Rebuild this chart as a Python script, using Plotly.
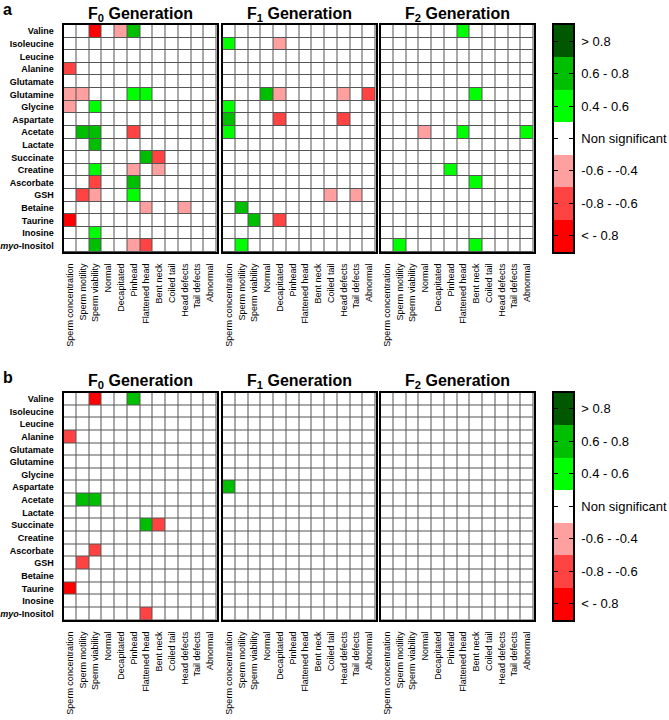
import plotly.graph_objects as go

metabolites = ["Valine", "Isoleucine", "Leucine", "Alanine", "Glutamate", "Glutamine",
               "Glycine", "Aspartate", "Acetate", "Lactate", "Succinate", "Creatine",
               "Ascorbate", "GSH", "Betaine", "Taurine", "Inosine", "myo-Inositol"]
metabolite_labels = [m if m != "myo-Inositol" else "<i>myo</i>-Inositol" for m in metabolites]
parameters = ["Sperm concentration", "Sperm motility", "Sperm viability", "Normal",
              "Decapitated", "Pinhead", "Flattened head", "Bent neck", "Coiled tail",
              "Head defects", "Tail defects", "Abnormal"]
generations = ["F<sub>0</sub> Generation", "F<sub>1</sub> Generation", "F<sub>2</sub> Generation"]

# significant correlations (representative value of each class); others = non significant
a_F0 = [("Valine", "Sperm viability", -0.9), ("Valine", "Decapitated", -0.5), ("Valine", "Pinhead", 0.7),
        ("Alanine", "Sperm concentration", -0.7),
        ("Glutamine", "Sperm concentration", -0.5), ("Glutamine", "Sperm motility", -0.5),
        ("Glutamine", "Pinhead", 0.5), ("Glutamine", "Flattened head", 0.5),
        ("Glycine", "Sperm concentration", -0.5), ("Glycine", "Sperm viability", 0.5),
        ("Acetate", "Sperm motility", 0.7), ("Acetate", "Sperm viability", 0.7), ("Acetate", "Pinhead", -0.7),
        ("Lactate", "Sperm viability", 0.7),
        ("Succinate", "Flattened head", 0.7), ("Succinate", "Bent neck", -0.7),
        ("Creatine", "Sperm viability", 0.5), ("Creatine", "Pinhead", -0.5), ("Creatine", "Bent neck", -0.5),
        ("Ascorbate", "Sperm viability", -0.7), ("Ascorbate", "Pinhead", 0.7),
        ("GSH", "Sperm motility", -0.7), ("GSH", "Sperm viability", -0.5), ("GSH", "Pinhead", 0.5),
        ("Betaine", "Flattened head", -0.5), ("Betaine", "Head defects", -0.5),
        ("Taurine", "Sperm concentration", -0.9),
        ("Inosine", "Sperm viability", 0.5),
        ("myo-Inositol", "Sperm viability", 0.7), ("myo-Inositol", "Pinhead", -0.5),
        ("myo-Inositol", "Flattened head", -0.7)]
a_F1 = [("Isoleucine", "Sperm concentration", 0.5), ("Isoleucine", "Decapitated", -0.5),
        ("Glutamine", "Normal", 0.7), ("Glutamine", "Decapitated", -0.5),
        ("Glutamine", "Head defects", -0.5), ("Glutamine", "Abnormal", -0.7),
        ("Glycine", "Sperm concentration", 0.5),
        ("Aspartate", "Sperm concentration", 0.7), ("Aspartate", "Decapitated", -0.7),
        ("Aspartate", "Head defects", -0.7),
        ("Acetate", "Sperm concentration", 0.5),
        ("GSH", "Coiled tail", -0.5), ("GSH", "Tail defects", -0.5),
        ("Betaine", "Sperm motility", 0.7),
        ("Taurine", "Sperm viability", 0.7), ("Taurine", "Decapitated", -0.7),
        ("myo-Inositol", "Sperm motility", 0.5)]
a_F2 = [("Valine", "Flattened head", 0.5),
        ("Glutamine", "Bent neck", 0.5),
        ("Acetate", "Normal", -0.5), ("Acetate", "Flattened head", 0.5), ("Acetate", "Abnormal", 0.5),
        ("Creatine", "Pinhead", 0.5),
        ("Ascorbate", "Bent neck", 0.5),
        ("myo-Inositol", "Sperm motility", 0.5), ("myo-Inositol", "Bent neck", 0.5)]
b_F0 = [("Valine", "Sperm viability", -0.9), ("Valine", "Pinhead", 0.7),
        ("Alanine", "Sperm concentration", -0.7),
        ("Acetate", "Sperm motility", 0.7), ("Acetate", "Sperm viability", 0.7),
        ("Succinate", "Flattened head", 0.7), ("Succinate", "Bent neck", -0.7),
        ("Ascorbate", "Sperm viability", -0.7),
        ("GSH", "Sperm motility", -0.7),
        ("Taurine", "Sperm concentration", -0.9),
        ("myo-Inositol", "Flattened head", -0.7)]
b_F1 = [("Aspartate", "Sperm concentration", 0.7)]
b_F2 = []

legend_values = [0.9, 0.7, 0.5, 0.0, -0.5, -0.7, -0.9]
legend_labels = ["> 0.8", "0.6 - 0.8", "0.4 - 0.6", "Non significant",
                 "-0.6 - -0.4", "-0.8 - -0.6", "< - 0.8"]

C_RED, C_MRED, C_PINK, C_WHITE = "#ff0000", "#ff4242", "#ffa0a0", "#ffffff"
C_G1, C_G2, C_G3 = "#00ff00", "#00bf00", "#005800"
colorscale = [[0, C_RED], [0.1, C_RED], [0.1, C_MRED], [0.2, C_MRED], [0.2, C_PINK], [0.3, C_PINK],
              [0.3, C_WHITE], [0.7, C_WHITE], [0.7, C_G1], [0.8, C_G1], [0.8, C_G2], [0.9, C_G2],
              [0.9, C_G3], [1, C_G3]]

W, H = 669, 720
FONT = "Liberation Sans, Arial, sans-serif"


def build(entries):
    z = [[0.0] * len(parameters) for _ in metabolites]
    for m, p, v in entries:
        z[metabolites.index(m)][parameters.index(p)] = v
    return z


def xd(x0, x1):
    return [x0 / W, x1 / W]


def yd(y0, y1):
    return [1 - y1 / H, 1 - y0 / H]


fig = go.Figure()
panels = [("a", [a_F0, a_F1, a_F2], 25, 252, 10), ("b", [b_F0, b_F1, b_F2], 392.5, 620, 377)]
xcols = [(63.5, 216.5), (222.5, 375.5), (380.5, 533.5)]
ax = 0
for label, gens, ytop, ybot, ylab in panels:
    for g, entries in enumerate(gens):
        ax += 1
        xs = "" if ax == 1 else str(ax)
        fig.add_trace(go.Heatmap(z=build(entries), x=list(range(len(parameters))),
                                 y=list(range(len(metabolites))), colorscale=colorscale,
                                 zmin=-1, zmax=1, showscale=False, xgap=1, ygap=1,
                                 hoverinfo="skip", xaxis="x" + xs, yaxis="y" + xs))
        fig.layout["xaxis" + xs] = dict(domain=xd(*xcols[g]), anchor="y" + xs,
                                        range=[-0.5, len(parameters) - 0.5],
                                        tickvals=list(range(len(parameters))), ticktext=parameters,
                                        tickangle=-90, ticks="", ticklabelstandoff=6,
                                        tickfont=dict(family=FONT, size=9, color="black"),
                                        showline=True, linecolor="black", linewidth=2, mirror=True,
                                        showgrid=False, zeroline=False, fixedrange=True)
        fig.layout["yaxis" + xs] = dict(domain=yd(ytop, ybot), anchor="x" + xs,
                                        range=[len(metabolites) - 0.5, -0.5],
                                        tickvals=list(range(len(metabolites))),
                                        ticktext=metabolite_labels, showticklabels=(g == 0),
                                        ticks="", ticklabelstandoff=6,
                                        tickfont=dict(family=FONT, size=9, color="black", weight="bold"),
                                        showline=True, linecolor="black", linewidth=2, mirror=True,
                                        showgrid=False, zeroline=False, fixedrange=True)
        fig.add_annotation(text=generations[g], x=sum(xcols[g]) / 2 / W, y=1 - (ytop + 1) / H,
                           xref="paper", yref="paper", xanchor="center", yanchor="bottom",
                           showarrow=False, font=dict(family=FONT, size=16, color="black", weight="bold"))
    # legend bar
    ax += 1
    xs = str(ax)
    fig.add_trace(go.Heatmap(z=[[v] for v in legend_values], x=[0], y=list(range(len(legend_values))),
                             colorscale=colorscale, zmin=-1, zmax=1, showscale=False,
                             hoverinfo="skip", xaxis="x" + xs, yaxis="y" + xs))
    fig.layout["xaxis" + xs] = dict(domain=xd(554, 573), anchor="y" + xs, range=[-0.5, 0.5],
                                    showticklabels=False, ticks="", showline=True, linecolor="black",
                                    linewidth=1.5, mirror=True, showgrid=False, zeroline=False,
                                    fixedrange=True)
    fig.layout["yaxis" + xs] = dict(domain=yd(ytop, ybot), anchor="x" + xs, side="right",
                                    range=[len(legend_values) - 0.5, -0.5],
                                    tickvals=list(range(len(legend_values))), ticktext=legend_labels,
                                    ticks="inside", ticklen=4, tickwidth=1, tickcolor="black",
                                    ticklabelstandoff=4,
                                    tickfont=dict(family=FONT, size=13, color="black"),
                                    showline=True, linecolor="black", linewidth=1.5, mirror="ticks",
                                    showgrid=False, zeroline=False, fixedrange=True)
    fig.add_annotation(text=label, x=1 / W, y=1 - ylab / H, xref="paper", yref="paper",
                       xanchor="left", yanchor="middle", showarrow=False,
                       font=dict(family=FONT, size=16, color="black", weight="bold"))

fig.update_layout(width=W, height=H, autosize=False, margin=dict(l=0, r=0, t=0, b=0, pad=0),
                  paper_bgcolor="white", plot_bgcolor="#555555", showlegend=False)
fig.write_html("out.html", config={"displayModeBar": False},
               post_script="document.body.style.margin='0';document.body.style.overflow='hidden';")
